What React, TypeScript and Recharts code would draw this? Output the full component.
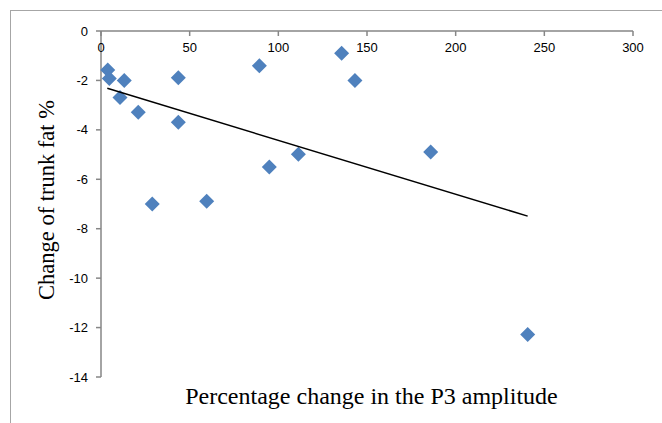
import React from 'react';
import { ComposedChart, Scatter, XAxis, YAxis } from 'recharts';

const xValues = [3.8, 4.7, 13.1, 10.7, 21.0, 28.9, 43.6, 43.6, 59.6, 89.3, 94.9, 111.3, 135.7, 143.2, 185.9, 240.6];
const yValues = [-1.58, -1.92, -2.0, -2.69, -3.29, -7.0, -1.89, -3.69, -6.89, -1.41, -5.5, -4.99, -0.9, -2.0, -4.9, -12.28];
const trendX = [3.55, 240.6];
const trendY = [-2.32, -7.49];
const xTicks = [0, 50, 100, 150, 200, 250, 300];
const yTicks = [0, -2, -4, -6, -8, -10, -12, -14];

const points = xValues.map((x, i) => ({ x, y: yValues[i] }));
const trend = trendX.map((x, i) => ({ x, y: trendY[i] }));

const Diamond = (props: any) => {
  const { cx, cy } = props;
  if (cx == null || cy == null) return null;
  const r = 7.5;
  return (
    <polygon
      points={`${cx},${cy - r} ${cx + r},${cy} ${cx},${cy + r} ${cx - r},${cy}`}
      fill="#4f81bd"
    />
  );
};

const NoShape = () => null;

const tickFont = { fontFamily: 'Liberation Sans, Arial, sans-serif', fontSize: 13, fill: '#000' };
const axisColor = '#868686';

export default function App() {
  return (
    <div style={{ position: 'absolute', left: 0, top: 0, width: 662, height: 423, background: '#fff' }}>
      <div
        style={{
          position: 'absolute',
          left: 10,
          top: 10,
          width: 652,
          height: 413,
          borderTop: '1.5px solid #a6a6a6',
          borderLeft: '1.5px solid #a6a6a6',
          boxSizing: 'border-box',
        }}
      />
      <div style={{ position: 'absolute', left: 0, top: 0 }}>
        <ComposedChart width={662} height={423} margin={{ top: 31, right: 29, bottom: 46, left: 0 }}>
          <XAxis
            type="number"
            dataKey="x"
            orientation="top"
            mirror
            domain={[0, 300]}
            ticks={xTicks}
            interval={0}
            stroke={axisColor}
            strokeWidth={1.5}
            tickSize={5}
            tickMargin={7}
            tick={tickFont}
            tickLine={{ stroke: axisColor }}
          />
          <YAxis
            type="number"
            dataKey="y"
            domain={[-14, 0]}
            ticks={yTicks}
            interval={0}
            width={101}
            stroke={axisColor}
            strokeWidth={1.5}
            tickSize={5}
            tickMargin={8}
            tick={tickFont}
            tickLine={{ stroke: axisColor }}
          />
          <Scatter data={points} shape={<Diamond />} isAnimationActive={false} />
          <Scatter
            data={trend}
            line={{ stroke: '#000', strokeWidth: 1.5 }}
            shape={<NoShape />}
            isAnimationActive={false}
          />
        </ComposedChart>
      </div>
      <div
        style={{
          position: 'absolute',
          left: 0,
          top: 383,
          width: 743,
          textAlign: 'center',
          fontFamily: 'Liberation Serif, Times New Roman, serif',
          fontSize: 24,
          color: '#000',
          whiteSpace: 'nowrap',
        }}
      >
        Percentage change in the P3 amplitude
      </div>
      <div
        style={{
          position: 'absolute',
          left: 47,
          top: 200,
          transform: 'translate(-50%, -50%) rotate(-90deg)',
          fontFamily: 'Liberation Serif, Times New Roman, serif',
          fontSize: 22.5,
          color: '#000',
          whiteSpace: 'nowrap',
        }}
      >
        Change of trunk fat %
      </div>
    </div>
  );
}
